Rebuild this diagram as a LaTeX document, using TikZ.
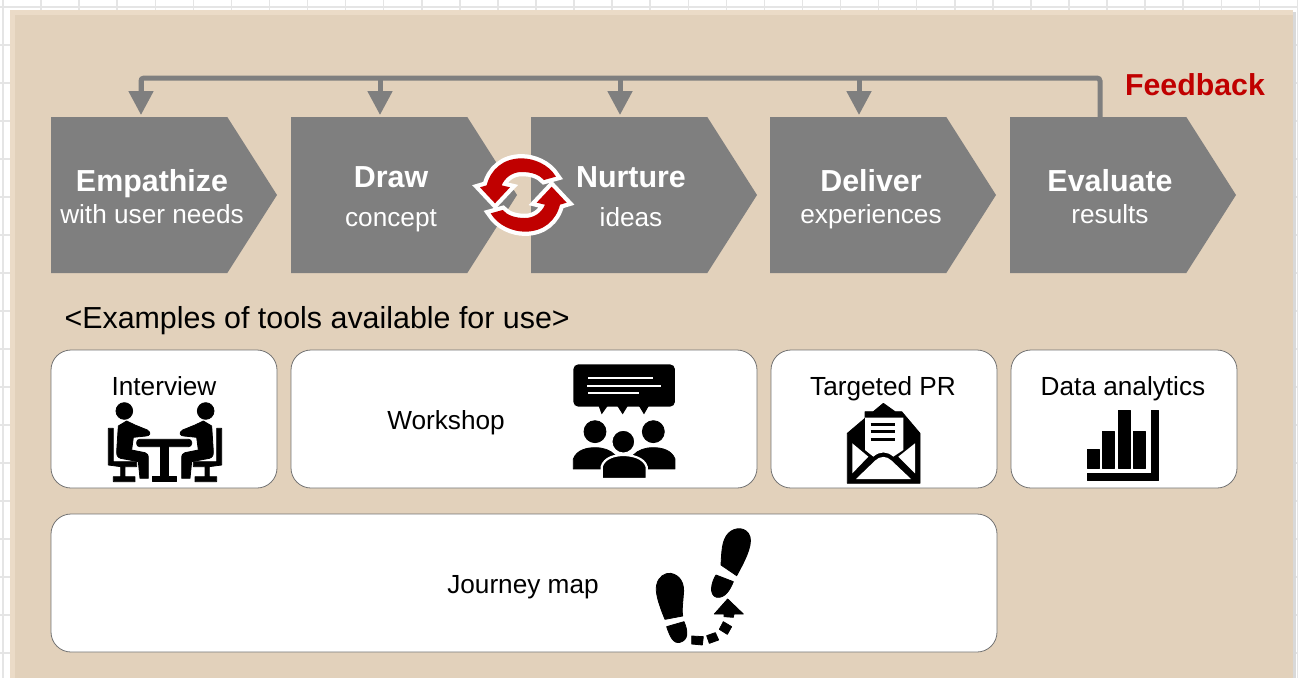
\documentclass[tikz,border=0pt]{standalone}
\usepackage{fontspec}
\setmainfont{Liberation Sans}
\usetikzlibrary{arrows.meta}
\usetikzlibrary{shapes.symbols}
\definecolor{panelc}{HTML}{E2D1BB}
\definecolor{edgec}{HTML}{EBDBC7}
\definecolor{greyc}{HTML}{7F7F7F}
\definecolor{redc}{HTML}{C00000}
\tikzset{
  chev/.style={signal,signal to=east,signal from=nowhere,signal pointer angle=115,fill=greyc,
    minimum width=226pt,minimum height=156pt,inner sep=0pt,outer sep=0pt,anchor=west},
  toolbox/.style={shape=rectangle,draw=black!55,fill=white,rounded corners=20pt,line width=0.8pt,
    minimum height=138pt,inner sep=0pt,outer sep=0pt,anchor=north west},
  head/.style={text=white,font=\fontsize{30.4}{32}\selectfont\bfseries},
  sub/.style={text=white,font=\fontsize{26.2}{28}\selectfont},
  tool/.style={text=black,font=\fontsize{26.2}{28}\selectfont},
  fb/.style={draw=greyc,line width=5pt},
  fbarrow/.style={fb,-{Triangle[length=24pt,width=24pt]},shorten >=2pt},
  ink/.style={draw=black,fill=black,line width=0.8pt,line join=round},
  zoomed/.style={x=0.3333pt,y=-0.3333pt},
  mirrored/.style={x=-0.3333pt,y=-0.3333pt},
  flipped/.style={x=-0.3333pt,y=0.3333pt}
}
\newcommand{\sitter}{%
  \filldraw[ink] (103,183) circle [radius=25];
  \filldraw[ink] (85,228) -- (110,213) -- (135,225) -- (172,240) .. controls (185,248) and (180,258) .. (168,258) -- (130,262) -- (125,300) -- (165,308) .. controls (172,310) and (175,315) .. (175,325) -- (175,385) -- (150,385) -- (145,335) -- (92,325) .. controls (82,322) and (80,315) .. (80,305) -- cycle;
  \filldraw[ink] (55,235) -- (70,235) -- (70,335) -- (140,335) -- (140,350) -- (105,350) -- (105,380) -- (135,380) -- (135,395) -- (70,395) -- (70,380) -- (92,380) -- (92,350) -- (55,345) -- cycle;
}
\newcommand{\cyclepath}{(318,140) .. controls (295,102) and (250,85) .. (215,85) .. controls (160,85) and (122,118) .. (110,166) -- (90,172) -- (135,220) -- (180,172) -- (155,166) .. controls (165,142) and (188,126) .. (215,126) .. controls (245,126) and (268,134) .. (282,150) -- cycle}
\newcommand{\cyclearrow}{%
  \draw[white,line width=8.5pt,line join=miter] \cyclepath;
  \fill[redc] \cyclepath;
}
\begin{document}
\begin{tikzpicture}[x=1pt,y=-1pt]
\useasboundingbox (0,0) rectangle (1298,678);
\fill[white] (0,0) rectangle (1298,678);
% grid behind the panel
\foreach \gx in {0,...,34} \draw[black!10,line width=1.5pt] (3+38.07*\gx,0) -- (3+38.07*\gx,678);
\foreach \gy in {0,...,17} \draw[black!10,line width=1.5pt] (0,7+38*\gy) -- (1298,7+38*\gy);
\fill[black!15] (1293,12) rectangle (1296,678);
\fill[edgec] (10,10) rectangle (1293,678);
\fill[panelc,fill opacity=0.92] (15,15) rectangle (1293,678);
% chevrons
\draw (51,195) node (emp) [chev] {};
\draw (291,195) node (drw) [chev] {};
\draw (531,195) node (nur) [chev] {};
\draw (770,195) node (del) [chev] {};
\draw (1010,195) node (eva) [chev] {};
% feedback line
\coordinate (a1) at (141,78);
\coordinate (a2) at (380,78);
\coordinate (a3) at (620,78);
\coordinate (a4) at (859,78);
\coordinate (a5) at (1100,78);
\draw[fb,rounded corners=3pt] (a1 |- emp.north) ++(0,-26) -- (a1) -- (a5) -- (a5 |- eva.north);
\draw[fbarrow] (a1) -- (a1 |- emp.north);
\draw[fbarrow] (a2) -- (a2 |- drw.north);
\draw[fbarrow] (a3) -- (a3 |- nur.north);
\draw[fbarrow] (a4) -- (a4 |- del.north);
\draw (1195,85) node (fbl) [text=redc,font=\fontsize{30.3}{32}\selectfont\bfseries] {Feedback};
% cycle icon
\begin{scope}[shift={(450,130)},zoomed]
\cyclearrow
\end{scope}
\begin{scope}[shift={(596.67,260)},flipped]
\cyclearrow
\end{scope}
% chevron texts
\draw (152,184) node (empa) [head] {Empathize};
\draw (152,214) node (empb) [sub] {with user needs};
\draw (391,177) node (drwa) [head] {Draw};
\draw (391,221) node (drwb) [sub] {concept};
\draw (631,177) node (nura) [head] {Nurture};
\draw (631,217) node (nurb) [sub] {ideas};
\draw (871,181) node (dela) [head] {Deliver};
\draw (871,217) node (delb) [sub] {experiences};
\draw (1110,181) node (evaa) [head] {Evaluate};
\draw (1110,214) node (evab) [sub] {results};
\draw (61,321) node (ex) [anchor=west,text=black,font=\fontsize{30.4}{32}\selectfont] {<Examples of tools available for use>};
% tool boxes
\draw (51,350) node (b1) [toolbox,minimum width=226pt] {};
\draw (291,350) node (b2) [toolbox,minimum width=466pt] {};
\draw (771,350) node (b3) [toolbox,minimum width=226pt] {};
\draw (1011,350) node (b4) [toolbox,minimum width=226pt] {};
\draw (51,514) node (b5) [toolbox,minimum width=946pt] {};
\draw (164,386) node (t1) [tool] {Interview};
\draw (446,423) node (t2) [tool] {Workshop};
\draw (883,389) node (t3) [tool] {Targeted PR};
\draw (1123,389) node (t4) [tool] {Data analytics};
\draw (523,587) node (t5) [tool] {Journey map};
% interview icon
\begin{scope}[shift={(90,350)},zoomed]
\sitter
\filldraw[ink,rounded corners=3pt] (140,268) rectangle (305,290);
\filldraw[ink] (211,290) -- (235,290) -- (235,380) -- (260,380) -- (260,395) -- (188,395) -- (188,380) -- (211,380) -- cycle;
\end{scope}
\begin{scope}[shift={(240,350)},mirrored]
\sitter
\end{scope}
% workshop icon
\begin{scope}[shift={(560,355)},zoomed]
\fill[rounded corners=5pt] (40,28) rectangle (345,155);
\fill (115,150) -- (125,178) -- (145,150) -- cycle;
\fill (170,150) -- (188,178) -- (205,150) -- cycle;
\fill (235,150) -- (252,178) -- (268,150) -- cycle;
\draw[white,line width=2.2pt] (85,70) -- (280,70);
\draw[white,line width=2.2pt] (82,92) -- (303,92);
\draw[white,line width=2.2pt] (85,113) -- (238,113);
\filldraw[ink] (105,230) circle [radius=33];
\filldraw[ink] (280,230) circle [radius=33];
\filldraw[ink] (40,342) -- (40,312) .. controls (50,285) and (80,278) .. (105,278) .. controls (130,278) and (150,285) .. (165,300) -- (165,342) -- cycle;
\filldraw[ink] (345,342) -- (345,312) .. controls (335,285) and (305,278) .. (280,278) .. controls (255,278) and (235,285) .. (220,300) -- (220,342) -- cycle;
\filldraw[draw=white,line width=2.2pt] (190,260) circle [radius=36];
\filldraw[draw=white,line width=2.2pt] (125,372) -- (125,335) .. controls (133,308) and (165,300) .. (190,300) .. controls (215,300) and (252,308) .. (260,335) -- (260,372) -- cycle;
\end{scope}
% envelope icon
\begin{scope}[shift={(830,395)},zoomed]
\filldraw[ink] (160,25) -- (195,50) -- (215,50) -- (270,115) -- (270,265) -- (52,265) -- (52,115) -- (105,70) -- (105,50) -- (130,50) -- cycle;
\fill[white] (105,68) -- (220,68) -- (220,165) -- (190,185) .. controls (170,168) and (150,168) .. (130,185) -- (105,165) -- cycle;
\fill[white] (67,145) -- (115,185) -- (67,235) -- cycle;
\fill[white] (255,145) -- (205,185) -- (255,235) -- cycle;
\fill[white] (78,252) -- (135,197) .. controls (150,182) and (170,182) .. (185,197) -- (243,252) -- cycle;
\draw[line width=3pt] (122,88) -- (195,88);
\draw[line width=3pt] (122,110) -- (195,110);
\draw[line width=3pt] (122,133) -- (195,133);
\end{scope}
% chart icon
\begin{scope}[shift={(1070,400)},zoomed]
\filldraw[ink] (52,148) rectangle (88,205);
\filldraw[ink] (98,95) rectangle (134,205);
\filldraw[ink] (145,30) rectangle (181,205);
\filldraw[ink] (191,95) rectangle (227,205);
\filldraw[ink] (243,30) -- (265,30) -- (265,242) -- (52,242) -- (52,220) -- (243,220) -- cycle;
\end{scope}
% footprints icon
\begin{scope}[shift={(640,520)},zoomed]
\filldraw[ink] (75,298) .. controls (55,250) and (45,215) .. (50,195) .. controls (55,170) and (75,158) .. (92,160) .. controls (120,165) and (135,190) .. (130,225) .. controls (128,250) and (125,275) .. (128,288) -- cycle;
\filldraw[ink] (80,320) -- (132,305) .. controls (145,335) and (145,360) .. (120,367) .. controls (100,372) and (90,350) .. (80,320) -- cycle;
\filldraw[ink] (243,135) .. controls (245,100) and (245,60) .. (265,40) .. controls (285,20) and (320,20) .. (330,50) .. controls (338,80) and (310,130) .. (290,167) -- cycle;
\filldraw[ink] (228,165) -- (280,185) .. controls (270,210) and (255,235) .. (230,232) .. controls (205,225) and (215,185) .. (228,165) -- cycle;
\filldraw[ink] (263,237) -- (310,282) -- (282,282) -- (280,292) -- (252,290) -- (252,282) -- (223,282) -- cycle;
\filldraw[ink] (250,305) -- (275,320) -- (262,343) -- (238,328) -- cycle;
\filldraw[ink] (200,347) -- (226,338) -- (236,360) -- (208,370) -- cycle;
\filldraw[ink] (155,348) -- (190,350) -- (187,375) -- (155,372) -- cycle;
\end{scope}
\end{tikzpicture}
\end{document}
